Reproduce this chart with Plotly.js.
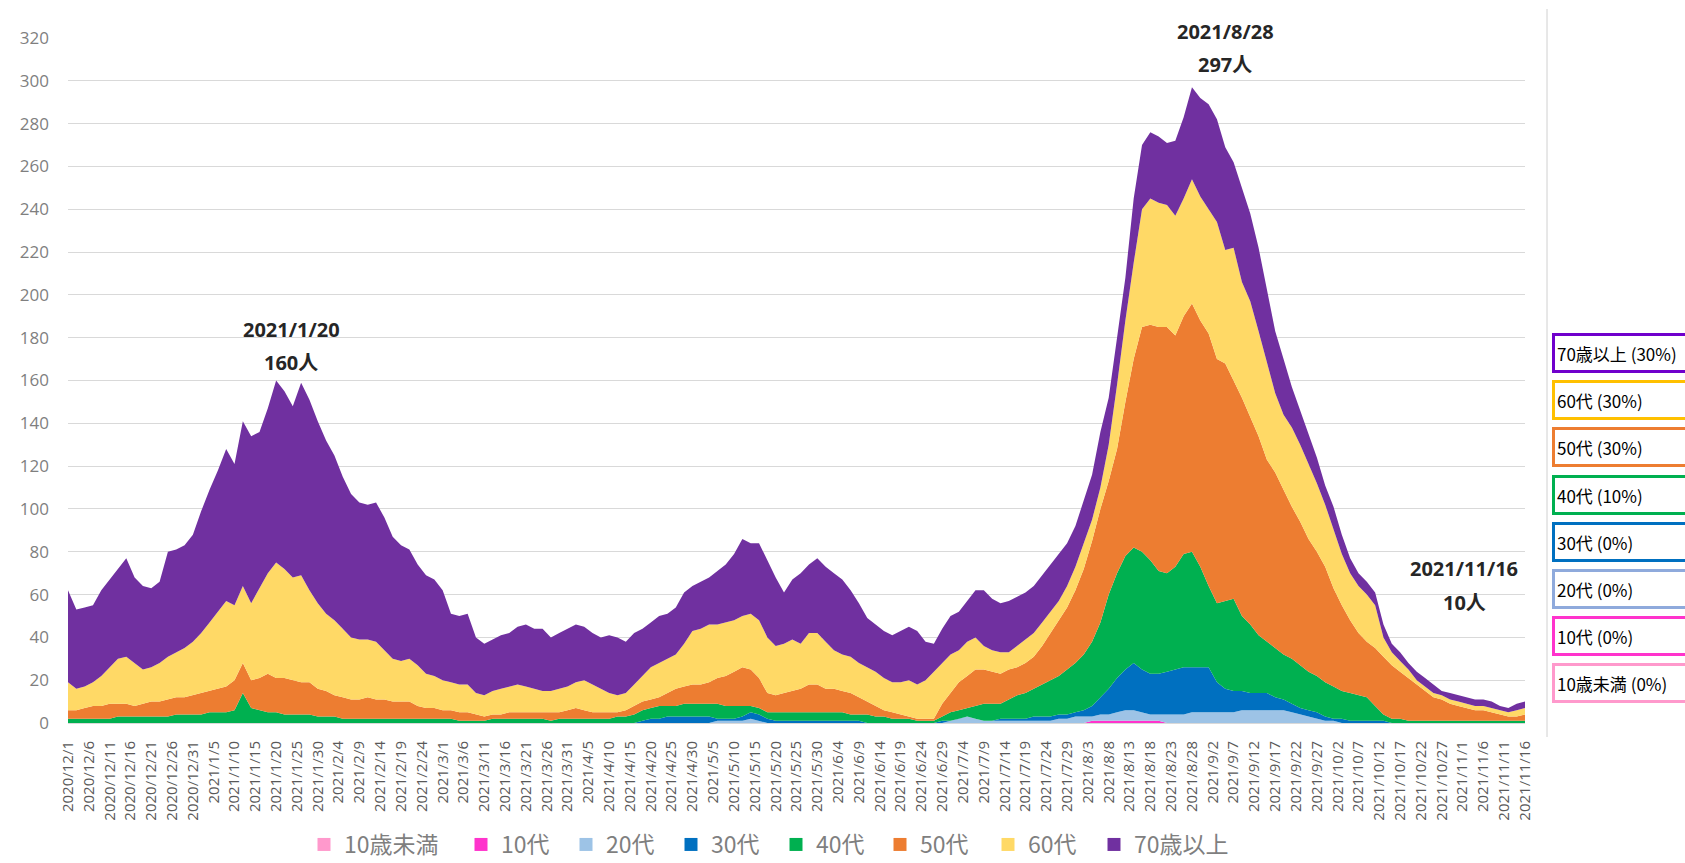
<!DOCTYPE html>
<html><head><meta charset="utf-8">
<script src="https://cdn.plot.ly/plotly-3.0.1.min.js"></script>
<style>html,body{margin:0;padding:0;background:#fff;} #chart{width:1685px;height:863px;}</style>
</head><body><div id="chart"></div>
<script>
// sampling: every 2 days from 2020/12/1 to 2021/11/16
const START = [2020, 11, 1];
const STEP_DAYS = 2;
const N_POINTS = 176;

const seriesNames = ['10歳未満','10代','20代','30代','40代','50代','60代','70歳以上'];
const seriesColors = ['#FF99CC','#FF33CC','#9DC3E6','#0070C0','#00B050','#ED7D31','#FFD966','#7030A0'];
const boxLabels = ['70歳以上 (30%)','60代 (30%)','50代 (30%)','40代 (10%)','30代 (0%)','20代 (0%)','10代 (0%)','10歳未満 (0%)'];
const boxColors = ['#7000CC','#FFC000','#ED7D31','#00B050','#0070C0','#8FAADC','#FF33CC','#FF99CC'];

const under10 = new Array(176).fill(0);
const age10 = [
0,0,0,0,0,0,0,0,0,0, 0,0,0,0,0,0,0,0,0,0, 0,0,0,0,0,0,0,0,0,0,
0,0,0,0,0,0,0,0,0,0, 0,0,0,0,0,0,0,0,0,0, 0,0,0,0,0,0,0,0,0,0,
0,0,0,0,0,0,0,0,0,0, 0,0,0,0,0,0,0,0,0,0, 0,0,0,0,0,0,0,0,0,0,
0,0,0,0,0,0,0,0,0,0, 0,0,0,0,0,0,0,0,0,0, 0,0,0,0,0,0,0,0,0,0,
0,0,0,1,1,1,1,1,1,1, 1,1,0,0,0,0,0,0,0,0, 0,0,0,0,0,0,0,0,0,0,
0,0,0,0,0,0,0,0,0,0, 0,0,0,0,0,0,0,0,0,0, 0,0,0,0,0,0];
const age20 = [
0,0,0,0,0,0,0,0,0,0, 0,0,0,0,0,0,0,0,0,0, 0,0,0,0,0,0,0,0,0,0,
0,0,0,0,0,0,0,0,0,0, 0,0,0,0,0,0,0,0,0,0, 0,0,0,0,0,0,0,0,0,0,
0,0,0,0,0,0,0,0,0,0, 0,0,0,0,0,0,0,0,1,1, 1,1,2,1,0,0,0,0,0,0,
0,0,0,0,0,0,0,0,0,0, 0,0,0,0,0,0,1,2,3,2, 1,1,1,1,1,1,1,1,1,2,
2,3,3,2,3,3,4,5,5,4, 3,3,4,4,4,5,5,5,5,5, 5,6,6,6,6,6,6,5,4,3,
2,1,1,0,0,0,0,0,0,0, 0,0,0,0,0,0,0,0,0,0, 0,0,0,0,0,0];
const age30 = [
0,0,0,0,0,0,0,0,0,0, 0,0,0,0,0,0,0,0,0,0, 0,0,0,0,0,0,0,0,0,0,
0,0,0,0,0,0,0,0,0,0, 0,0,0,0,0,0,0,0,0,0, 0,0,0,0,0,0,0,0,0,0,
0,0,0,0,0,0,0,0,0,1, 2,2,3,3,3,3,3,3,1,1, 1,2,3,3,2,1,1,1,1,1,
1,1,1,1,1,1,0,0,0,0, 0,0,0,0,0,1,0,0,0,0, 0,0,1,1,1,1,2,2,2,2,
2,2,3,5,8,12,16,19,22,20, 19,19,20,21,22,21,21,21,14,11, 10,9,8,8,8,6,5,4,3,3,
3,2,1,2,1,1,1,1,1,0, 0,0,0,0,0,0,0,0,0,0, 0,0,0,0,0,0];
const age40 = [
2,2,2,2,2,2,3,3,3,3, 3,3,3,4,4,4,4,5,5,5, 6,14,7,6,5,5,4,4,4,4,
3,3,3,2,2,2,2,2,2,2, 2,2,2,2,2,2,2,1,1,1, 1,2,2,2,2,2,2,2,1,2,
2,2,2,2,2,2,3,3,4,5, 5,6,5,5,6,6,6,6,7,6, 6,5,3,3,3,4,4,4,4,4,
4,4,4,4,3,3,4,3,3,2, 2,2,1,1,1,2,4,4,4,6, 8,8,7,9,11,12,13,15,17,18,
21,23,26,30,35,44,49,53,54,55, 53,48,46,48,53,54,47,38,37,41, 43,35,32,27,24,23,21,21,20,18,
17,16,15,13,13,12,11,7,3,2, 2,1,1,1,1,1,1,1,1,1, 1,1,1,1,1,1];
const age50 = [
4,4,5,6,6,7,6,6,5,6, 7,7,8,8,8,9,10,10,11,12, 14,14,13,15,18,16,17,16,15,15,
13,12,10,10,9,9,10,9,9,8, 8,8,6,5,5,4,4,4,4,3, 2,2,2,3,3,3,3,3,4,3,
4,5,4,3,3,3,2,3,4,4, 4,4,6,8,8,9,9,10,12,14, 16,18,17,14,9,8,9,10,11,13,
13,11,11,10,10,8,6,5,3,3, 2,1,1,1,1,6,9,13,15,17, 16,15,14,14,13,14,15,18,22,26,
29,34,40,47,53,53,58,72,88,105, 110,114,115,108,111,116,115,118,114,111, 102,102,97,93,85,82,77,71,67,62,
58,54,46,40,34,29,26,27,27,25, 22,20,17,14,11,10,8,7,6,5, 5,4,3,2,2,3];
const age60 = [
13,10,10,11,14,17,21,22,20,16, 16,18,20,21,23,25,28,32,36,40, 35,36,36,42,47,54,51,48,50,43,
40,36,35,32,29,28,27,27,23,20, 19,20,19,16,15,14,13,13,13,10, 10,11,12,12,13,12,11,10,10,11,
11,12,14,13,11,9,8,8,10,12, 15,16,16,16,20,25,26,27,25,25, 24,24,26,27,26,23,23,24,21,24,
24,22,18,17,17,16,16,16,15,14, 15,17,16,18,22,19,18,15,16,15, 11,10,10,8,10,11,11,11,10,9,
10,11,12,10,10,17,30,38,45,55, 59,58,57,56,55,58,58,58,64,53, 62,54,54,49,45,37,35,37,36,35,
32,29,28,24,22,22,22,20,9,6, 5,4,2,2,2,2,2,2,2,2, 2,2,2,2,3,3];
const age70 = [
43,37,37,36,40,41,42,46,40,39, 37,38,49,48,48,50,57,62,66,71, 66,77,78,73,77,85,83,80,90,89,
85,81,77,71,67,64,63,65,62,57, 54,51,47,46,45,42,32,32,33,26, 24,24,25,25,27,29,28,29,25,26,
27,27,25,24,24,27,27,24,24,22, 21,22,21,22,24,21,22,22,25,27, 31,36,33,36,36,32,24,28,33,32,
35,35,36,35,31,28,23,22,22,22, 24,25,25,18,13,16,18,18,19,22, 26,24,23,24,23,22,22,22,22,22,
20,19,20,21,26,22,22,20,30,30, 31,31,29,35,38,43,46,49,48,48, 40,44,41,39,34,29,26,19,16,14,
12,9,10,9,7,6,6,6,6,4, 4,3,4,4,4,2,3,3,3,3, 3,3,2,2,3,3];

const peakLabels = [
  {date: '2021/1/20', count: '160人', cx: 291, cy1: 329, cy2: 362},
  {date: '2021/8/28', count: '297人', cx: 1225, cy1: 32, cy2: 64},
  {date: '2021/11/16', count: '10人', cx: 1464, cy1: 568, cy2: 602}
];

function dayStr(n){
  const d = new Date(Date.UTC(START[0], START[1], START[2] + n));
  return d.toISOString().slice(0,10);
}
function dayLabel(n){
  const d = new Date(Date.UTC(START[0], START[1], START[2] + n));
  return d.getUTCFullYear() + '/' + (d.getUTCMonth()+1) + '/' + d.getUTCDate();
}
const dates = [];
for (let i = 0; i < N_POINTS; i++) dates.push(dayStr(i*STEP_DAYS));
const tickVals = [], tickText = [];
for (let n = 0; n <= 350; n += 5){ tickVals.push(dayStr(n)); tickText.push(dayLabel(n)); }

const allSeries = [under10, age10, age20, age30, age40, age50, age60, age70];

// plot geometry (px)
const W = 1685, H = 863;
const L = 68, R = 1525, T = 38, B = 723;
const pw = R - L, ph = B - T;
const px = x => (x - L) / pw;
const py = y => (B - y) / ph;

const legendIds = seriesNames.map((_, i) => i === 0 ? 'legend' : 'legend' + (i + 1));
const legendTextX = [342, 499, 604, 709, 814, 918, 1026, 1132];

const traces = [];
allSeries.forEach((s, i) => {
  traces.push({
    type: 'scatter', x: dates, y: s, name: seriesNames[i],
    stackgroup: 'one', mode: 'lines', line: {width: 0, color: seriesColors[i]},
    fillcolor: seriesColors[i], showlegend: false, hoverinfo: 'skip'
  });
});
seriesNames.forEach((nm, i) => {
  traces.push({
    type: 'scatter', x: [null], y: [null], name: nm, mode: 'markers', legend: legendIds[i],
    marker: {symbol: 'square', size: 13, color: seriesColors[i]}, showlegend: true, hoverinfo: 'skip'
  });
});

const annotations = [];
peakLabels.forEach(p => {
  annotations.push({xref:'paper', yref:'paper', x: px(p.cx), y: py(p.cy1), text: '<b>'+p.date+'</b>', showarrow:false,
    xanchor:'center', yanchor:'middle', font:{size:20, color:'#262626', family:'Open Sans, Noto Sans CJK JP, sans-serif'}});
  annotations.push({xref:'paper', yref:'paper', x: px(p.cx), y: py(p.cy2), text: '<b>'+p.count+'</b>', showarrow:false,
    xanchor:'center', yanchor:'middle', font:{size:20, color:'#262626', family:'Open Sans, Noto Sans CJK JP, sans-serif'}});
});
boxLabels.forEach((t, i) => {
  const cy = 353 + i * 47.2;
  annotations.push({xref:'paper', yref:'paper', x: px(1552), y: py(cy), text: t, showarrow:false,
    xanchor:'left', yanchor:'middle', align:'left', width: 150, height: 30,
    bordercolor: boxColors[i], borderwidth: 3, borderpad: 2, bgcolor: '#ffffff',
    font:{size:17, color:'#000000', family:'Noto Sans CJK JP, sans-serif'}});
});

const layout = {
  width: W, height: H,
  margin: {l: L, r: W - R, t: T, b: H - B, autoexpand: false},
  paper_bgcolor: '#ffffff', plot_bgcolor: '#ffffff',
  font: {family: 'Open Sans, Noto Sans CJK JP, sans-serif', color: '#595959'},
  hovermode: false,
  xaxis: {
    type: 'date', range: [dayStr(0), dayStr(350)], showgrid: false, zeroline: false,
    tickmode: 'array', tickvals: tickVals, ticktext: tickText, tickangle: -90,
    tickfont: {size: 15, color: '#595959'}, ticks: '', ticklabelstandoff: 14, showline: false
  },
  yaxis: {
    range: [0, 320], dtick: 20, tick0: 0, showgrid: true, gridcolor: '#d9d9d9', gridwidth: 1,
    zeroline: true, zerolinecolor: '#d9d9d9', zerolinewidth: 1,
    tickfont: {size: 17, color: '#7f7f7f'}, ticks: '', ticklabelstandoff: 18, showline: false
  },
  showlegend: true,
  shapes: [
    {type:'line', xref:'paper', yref:'paper', x0: px(1547), x1: px(1547), y0: py(737), y1: py(9),
     line:{color:'#d0d0d0', width:1}}
  ],
  annotations: annotations
};
legendIds.forEach((id, i) => {
  layout[id] = {
    orientation: 'h', x: px(legendTextX[i] - 38), xanchor: 'left', y: py(866), yanchor: 'bottom',
    font: {size: 23, color: '#7f7f7f', family: 'Noto Sans CJK JP, sans-serif'},
    itemwidth: 30, bgcolor: 'rgba(0,0,0,0)'
  };
});

Plotly.newPlot('chart', traces, layout, {displayModeBar: false});
</script></body></html>
